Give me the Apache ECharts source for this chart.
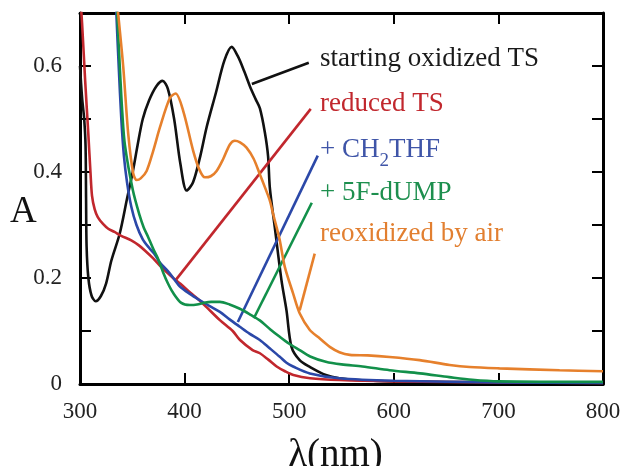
<!DOCTYPE html>
<html>
<head>
<meta charset="utf-8">
<script src="https://cdn.jsdelivr.net/npm/echarts@6/dist/echarts.min.js"></script>
<style>
  html, body { margin: 0; background: #fff; }
  #chart { width: 623px; height: 466px; }
</style>
</head>
<body>
<div id="chart"></div>
<script>
// spectra: [wavelength nm, absorbance]
const oxidizedTS = [
  [300, 0.6], [302, 0.54], [304, 0.5], [305.3, 0.45], [305.8, 0.35], [306.3, 0.26], [308, 0.2],
  [311, 0.167], [315, 0.156], [320, 0.166], [325, 0.19], [330, 0.233], [338, 0.284],
  [345, 0.35], [350.6, 0.402], [355, 0.45], [360, 0.5], [366, 0.535], [373, 0.562],
  [379, 0.572], [384, 0.557], [390, 0.5], [396, 0.415], [402, 0.365], [408, 0.38],
  [415, 0.43], [421, 0.484], [430, 0.55], [438, 0.61], [445, 0.636], [451, 0.618],
  [457, 0.59], [462.4, 0.562], [468, 0.537], [472, 0.52], [476.7, 0.475], [479.8, 0.43],
  [481.5, 0.37], [486.2, 0.296], [492.6, 0.196], [497.4, 0.139], [502.2, 0.07],
  [510, 0.045], [520, 0.032], [535, 0.017], [548, 0.011], [570, 0.007], [600, 0.005],
  [700, 0.003], [800, 0.002]
];
const reducedTS = [
  [300, 0.74], [302, 0.68], [305, 0.57], [308, 0.47], [310, 0.4], [311.5, 0.355],
  [314, 0.33], [317, 0.315], [322, 0.302], [327, 0.293], [333, 0.287], [339, 0.28],
  [349, 0.271], [356, 0.262], [362, 0.252], [370, 0.237], [378, 0.22], [389, 0.2],
  [396, 0.189], [405, 0.173], [413, 0.16], [421, 0.145], [434, 0.12], [446, 0.1],
  [453, 0.083], [465, 0.064], [472, 0.058], [480, 0.046], [488, 0.033], [496, 0.024],
  [504, 0.017], [520, 0.011], [548, 0.0075], [600, 0.005], [700, 0.003], [800, 0.002]
];
const plusCH2THF = [
  [330, 0.95], [334.7, 0.703], [337, 0.6], [339.5, 0.5], [342, 0.43], [345, 0.38],
  [349, 0.335], [354, 0.3], [360, 0.273], [366, 0.257], [371.3, 0.245], [376.4, 0.229],
  [384, 0.213], [390.4, 0.197], [395.5, 0.184], [405, 0.17], [414.6, 0.158], [424, 0.147],
  [433.7, 0.136], [443, 0.122], [452.8, 0.108], [462, 0.095], [471.9, 0.083], [481, 0.068],
  [491, 0.0513], [497.4, 0.04], [503.7, 0.033], [519.7, 0.02], [548, 0.0107], [600, 0.006],
  [700, 0.003], [800, 0.002]
];
const plus5FdUMP = [
  [330, 0.95], [335.5, 0.703], [338, 0.6], [340.5, 0.51], [343, 0.45], [350.6, 0.365],
  [357, 0.318], [361, 0.295], [365, 0.278], [370, 0.255], [374.5, 0.237], [379.6, 0.21],
  [384, 0.19], [389, 0.172], [396.8, 0.153], [405, 0.149], [412, 0.15], [418, 0.153],
  [425.4, 0.155], [433.7, 0.155], [443, 0.15], [452.8, 0.142], [462, 0.132], [471.9, 0.12],
  [482, 0.103], [491, 0.089], [500, 0.076], [510, 0.064], [520, 0.052], [535, 0.042],
  [550, 0.037], [570, 0.033], [596, 0.026], [625, 0.02], [653, 0.013], [675, 0.008],
  [700, 0.005], [800, 0.004]
];
const reoxidizedByAir = [
  [330, 0.84], [336.3, 0.703], [341.4, 0.597], [346.1, 0.472], [350.9, 0.397],
  [354.2, 0.385], [358, 0.388], [363.7, 0.402], [370, 0.44], [376.4, 0.484], [386, 0.54],
  [391.4, 0.548], [398.7, 0.515], [408.2, 0.44], [414, 0.405], [419.4, 0.39], [425, 0.392],
  [430.6, 0.402], [437, 0.425], [443.3, 0.452], [448, 0.459], [453, 0.456], [459.2, 0.446],
  [466, 0.425], [471.9, 0.396], [477, 0.37], [481.5, 0.346], [484.6, 0.321], [487.9, 0.296],
  [491, 0.271], [495.8, 0.221], [503.7, 0.171], [510.1, 0.133], [519.7, 0.102],
  [528, 0.088], [538.8, 0.07], [548, 0.06], [558, 0.055], [575, 0.054], [596, 0.051],
  [624.7, 0.045], [653.4, 0.036], [672.5, 0.032], [701, 0.0295], [758.5, 0.026], [800, 0.024]
];

// leader lines from each curve to its label
const leaderOxidized = [[464.3, 0.566], [518.7, 0.606]];
const leaderReduced = [[390.7, 0.194], [520.6, 0.519]];
const leaderCH2THF = [[450.9, 0.117], [527.3, 0.431]];
const leader5FdUMP = [[466.2, 0.124], [521.6, 0.342]];
const leaderReoxidized = [[510, 0.139], [524.4, 0.246]];

const seriesNames = ['starting oxidized TS', 'reduced TS', '+ CH2THF', '+ 5F-dUMP', 'reoxidized by air'];
const xTicks = [300, 400, 500, 600, 700, 800];
const yTickLabels = ['0', '0.2', '0.4', '0.6'];

const colors = ['#111111', '#c1272d', '#2b48a8', '#12904a', '#e6802c'];
const textColors = ['#1a1a1a', '#c1272d', '#3f55a8', '#1d8f4e', '#e27f30'];

const chart = echarts.init(document.getElementById('chart'));

const curves = [oxidizedTS, reducedTS, plusCH2THF, plus5FdUMP, reoxidizedByAir];
const leaders = [leaderOxidized, leaderReduced, leaderCH2THF, leader5FdUMP, leaderReoxidized];

const series = [];
curves.forEach((d, i) => {
  series.push({
    name: seriesNames[i],
    type: 'line',
    data: d,
    smooth: 0.3,
    showSymbol: false,
    clip: true,
    lineStyle: { width: 2.6, color: colors[i] },
    z: 2 + i
  });
});
leaders.forEach((d, i) => {
  series.push({
    type: 'line',
    data: d,
    showSymbol: false,
    lineStyle: { width: 2.6, color: colors[i] },
    z: 2 + i
  });
});

const serif = '"Liberation Serif", "DejaVu Serif", serif';
const axisLine = { show: true, onZero: false, lineStyle: { color: '#000', width: 3 } };
const tick = { show: true, inside: true, length: 11, lineStyle: { color: '#000', width: 2 } };

// label text placed at the end of each leader line
const labelY = [60, 105, 0, 194, 235];
const graphic = seriesNames.map((name, i) => {
  if (i === 2) {
    return {
      type: 'text', left: 320, top: 136,
      style: {
        text: '{n|+ CH}{s|2}{n|THF}',
        rich: {
          n: { fontFamily: serif, fontSize: 27, lineHeight: 28, verticalAlign: 'top', fill: textColors[i] },
          s: { fontFamily: serif, fontSize: 19, lineHeight: 46, verticalAlign: 'top', fill: textColors[i], padding: [16, 0, 0, 0] }
        }
      }
    };
  }
  return {
    type: 'text', left: 320, top: labelY[i] - 15,
    style: { text: name, fontFamily: serif, fontSize: 27, fill: textColors[i] }
  };
});
// y axis title
graphic.push({
  type: 'text', left: 10, top: 194,
  style: { text: 'A', fontFamily: serif, fontSize: 37, fill: '#111' }
});

chart.setOption({
  animation: false,
  backgroundColor: '#fff',
  grid: { left: 80, right: 20, top: 13, bottom: 82, outerBoundsMode: 'none', containLabel: false },
  xAxis: [{
    type: 'value', min: 300, max: 800, interval: 100,
    name: 'λ(nm)', nameLocation: 'middle', nameGap: 52,
    nameTextStyle: { fontFamily: serif, fontSize: 39, color: '#111', padding: [0, 12, 0, 0] },
    axisLine, axisTick: tick,
    axisLabel: {
      margin: 16, fontFamily: serif, fontSize: 23, color: '#222',
      formatter: v => (xTicks.includes(v) ? String(v) : '')
    },
    splitLine: { show: false }
  }, {
    type: 'value', position: 'top', min: 300, max: 800, interval: 100,
    axisLine, axisTick: tick, axisLabel: { show: false }, splitLine: { show: false }
  }],
  yAxis: [{
    type: 'value', min: 0, max: 0.7, interval: 0.1,
    axisLine, axisTick: tick,
    axisLabel: {
      margin: 18, fontFamily: serif, fontSize: 23, color: '#222',
      formatter: v => {
        const k = Math.round(v * 10);
        return k % 2 ? '' : yTickLabels[k / 2];
      }
    },
    splitLine: { show: false }
  }, {
    type: 'value', position: 'right', min: 0, max: 0.7, interval: 0.1,
    axisLine, axisTick: tick, axisLabel: { show: false }, splitLine: { show: false }
  }],
  graphic,
  series
});
</script>
</body>
</html>
